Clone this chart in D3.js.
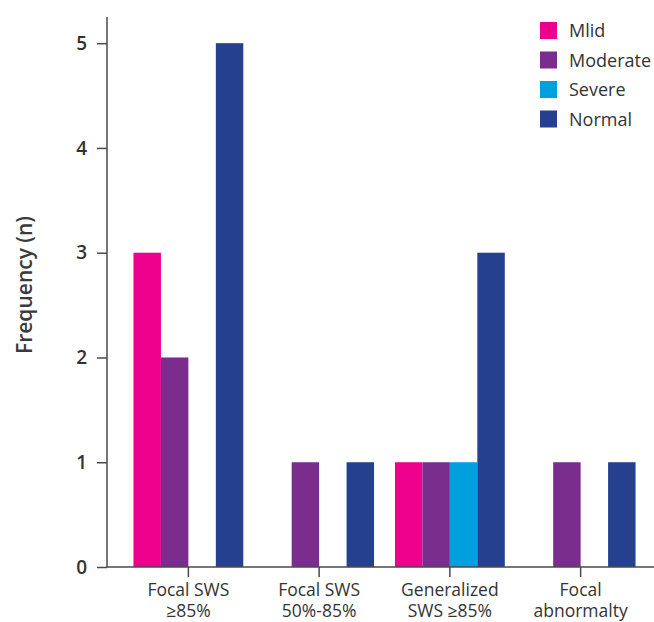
<!DOCTYPE html>
<html>
<head>
<meta charset="utf-8">
<script src="https://cdn.jsdelivr.net/npm/d3@7"></script>
<style>
  html, body { margin: 0; padding: 0; background: #fff; }
  svg { display: block; }
</style>
</head>
<body>
<svg id="chart" width="654" height="622"></svg>
<script>
const categories = [["Focal SWS", "\u226585%"], ["Focal SWS", "50%-85%"], ["Generalized", "SWS \u226585%"], ["Focal", "abnormalty"]];
const categoryKeys = ["c0", "c1", "c2", "c3"];
const seriesNames = ["Mlid", "Moderate", "Severe", "Normal"];
const seriesColors = ["#EC008C", "#7B2D8E", "#009FDF", "#24408E"];
const mlid = [3, 0, 1, 0];
const moderate = [2, 1, 1, 1];
const severe = [0, 0, 1, 0];
const normal = [5, 1, 3, 1];
const yTicks = [0, 1, 2, 3, 4, 5];
const yLabel = "Frequency (n)";

const seriesValues = [mlid, moderate, severe, normal];
const svg = d3.select("#chart");
const font = "'Open Sans', 'Noto Sans', sans-serif";
const axisColor = "#4a4a4a";

const x0 = d3.scaleBand().domain(categoryKeys).range([123, 646]).paddingInner(0.16).paddingOuter(0.08);
const x1 = d3.scaleBand().domain(seriesNames).range([0, x0.bandwidth()]);
const y = d3.scaleLinear().domain([0, 5.25]).range([567, 17]);

// bars
categoryKeys.forEach((k, ci) => {
  seriesNames.forEach((s, si) => {
    const v = seriesValues[si][ci];
    if (v > 0) {
      svg.append("rect")
        .attr("x", x0(k) + x1(s))
        .attr("y", y(v))
        .attr("width", x1.bandwidth())
        .attr("height", y(0) - y(v))
        .attr("fill", seriesColors[si]);
    }
  });
});

// y axis
const yAxis = svg.append("g").attr("transform", "translate(107,0)")
  .call(d3.axisLeft(y).tickValues(yTicks).tickSize(10).tickPadding(10).tickFormat(d3.format("d")));
yAxis.select(".domain").attr("stroke", axisColor).attr("stroke-width", 1.5).attr("d", `M0,${y(5.25)}V${y(0)}`);
yAxis.selectAll(".tick line").attr("stroke", axisColor).attr("stroke-width", 1.5);
yAxis.selectAll(".tick text").attr("fill", "#333").style("font-family", font)
  .style("font-size", "19px").style("font-weight", "600");

// x axis
const xAxis = svg.append("g").attr("transform", `translate(0,${y(0)})`)
  .call(d3.axisBottom(x0).tickSize(10).tickFormat(""));
xAxis.select(".domain").attr("stroke", axisColor).attr("stroke-width", 1.5).attr("d", "M107,0H654");
xAxis.selectAll(".tick line").attr("stroke", axisColor).attr("stroke-width", 1.5);
categoryKeys.forEach((k, i) => {
  const cx = x0(k) + x0.bandwidth() / 2;
  [0, 1].forEach(j => {
    svg.append("text")
      .attr("x", cx)
      .attr("y", 596 + j * 20.5)
      .attr("text-anchor", "middle")
      .attr("fill", "#333")
      .style("font-family", font)
      .style("font-size", "17.5px")
      .text(categories[i][j]);
  });
});

// y label
svg.append("text")
  .attr("transform", "translate(32,285) rotate(-90)")
  .attr("text-anchor", "middle")
  .attr("fill", "#3a3a3a")
  .style("font-family", font)
  .style("font-size", "21px")
  .style("font-weight", "600")
  .text(yLabel);

// legend
const legend = svg.append("g");
seriesNames.forEach((s, i) => {
  const yy = 22 + i * 29.5;
  legend.append("rect").attr("x", 540).attr("y", yy).attr("width", 17).attr("height", 17).attr("fill", seriesColors[i]);
  legend.append("text").attr("x", 569).attr("y", yy + 15)
    .attr("fill", "#333")
    .style("font-family", font)
    .style("font-size", "18px")
    .text(s);
});
</script>
</body>
</html>
